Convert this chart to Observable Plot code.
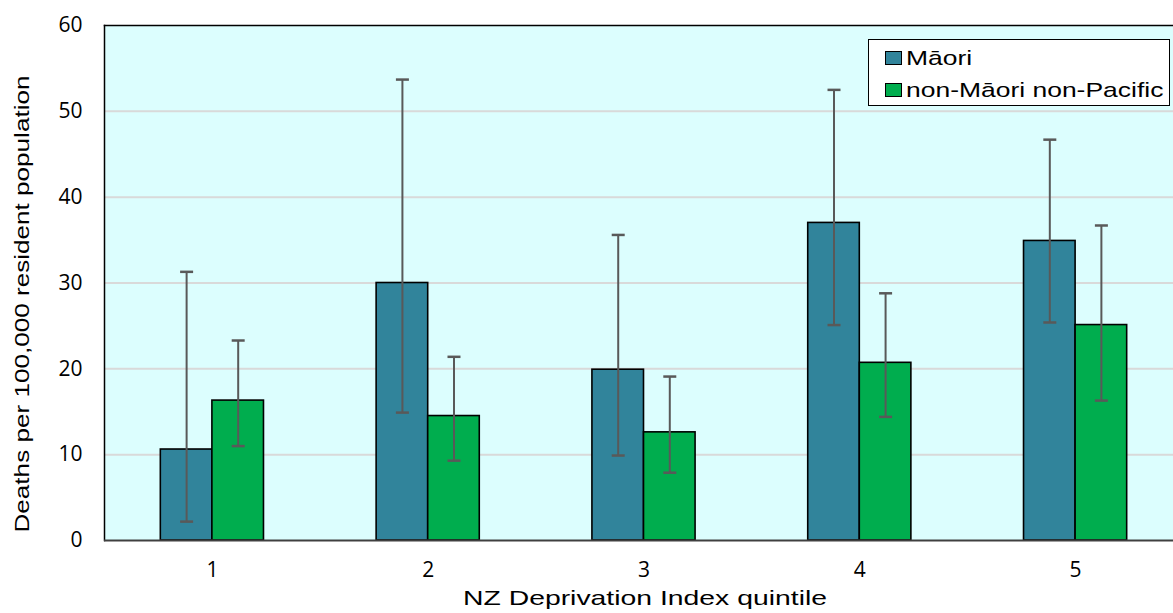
<!DOCTYPE html>
<html>
<head>
<meta charset="utf-8">
<script src="https://cdn.jsdelivr.net/npm/d3@7"></script>
<script src="https://cdn.jsdelivr.net/npm/@observablehq/plot@0.6"></script>
<style>
  html, body { margin: 0; padding: 0; background: #fff; overflow: hidden; }
  #wrap { position: relative; width: 1173px; height: 613px; overflow: hidden; }
  #wrap svg { max-width: none !important; }
  #legend {
    position: absolute; left: 868px; top: 39px; width: 302px; height: 67px; box-sizing: border-box;
    background: #fff; border: 1.5px solid #000;
    font-family: "Liberation Sans", Arial, sans-serif; font-size: 21px; color: #000;
  }
  #legend .row { position: relative; height: 32px; }
  #legend .sw { position: absolute; left: 16px; top: 11px; width: 17px; height: 14px; border: 1.5px solid #000; box-sizing: border-box; }
  #legend .lab { position: absolute; left: 37px; top: 6px; white-space: nowrap; transform: scaleX(1.26); transform-origin: 0 0; line-height: 24px; }
</style>
</head>
<body>
<div id="wrap"></div>
<script>
// ---- data ----
const quintiles = [1, 2, 3, 4, 5];
const seriesNames = ["Māori", "non-Māori non-Pacific"];
const maoriRate  = [10.6, 30.0, 19.9, 37.0, 34.9];
const maoriLow   = [2.2, 14.9, 9.9, 25.1, 25.4];
const maoriHigh  = [31.3, 53.7, 35.6, 52.5, 46.7];
const nmnpRate   = [16.3, 14.5, 12.6, 20.7, 25.1];
const nmnpLow    = [11.0, 9.3, 7.9, 14.4, 16.3];
const nmnpHigh   = [23.3, 21.4, 19.1, 28.8, 36.7];
const yTicks = [0, 10, 20, 30, 40, 50, 60];
const yTitle = "Deaths per 100,000 resident population";
const xTitle = "NZ Deprivation Index quintile";

const colors = ["#31849b", "#00ad4e"];
const barW = 0.239; // bar width in quintile units

const rows = [];
quintiles.forEach((q, i) => {
  rows.push({q, series: seriesNames[0], side: -1, v: maoriRate[i], lo: maoriLow[i], hi: maoriHigh[i]});
  rows.push({q, series: seriesNames[1], side: 1, v: nmnpRate[i], lo: nmnpLow[i], hi: nmnpHigh[i]});
});
rows.forEach(d => {
  d.x1 = d.side < 0 ? d.q - barW : d.q;
  d.x2 = d.side < 0 ? d.q : d.q + barW;
  d.xc = d.q + d.side * barW / 2;
});

const capSymbol = { draw(ctx) { ctx.moveTo(-6.5, 0); ctx.lineTo(6.5, 0); } };

const chart = Plot.plot({
  width: 1183,
  height: 613,
  marginLeft: 104,
  marginRight: 0,
  marginTop: 25,
  marginBottom: 73,
  style: { fontFamily: "'Open Sans', sans-serif", fontSize: "21px", color: "#000", background: "transparent", overflow: "visible", maxWidth: "none" },
  x: { domain: [0.5, 5.5], label: null },
  y: { domain: [0, 60], label: null },
  color: { domain: seriesNames, range: colors },
  marks: [
    Plot.frame({ fill: "#dcfefe", stroke: null }),
    Plot.ruleY(yTicks.filter(t => t > 0 && t < 60), { stroke: "#d9d9d9", strokeWidth: 2 }),
    Plot.rectY(rows, { x1: "x1", x2: "x2", y1: 0, y2: "v", fill: "series", stroke: "#000", strokeWidth: 1.6 }),
    Plot.ruleX(rows, { x: "xc", y1: "lo", y2: "hi", stroke: "#595959", strokeWidth: 2 }),
    Plot.dot(rows, { x: "xc", y: "lo", symbol: capSymbol, stroke: "#595959", strokeWidth: 2.5, r: 5 }),
    Plot.dot(rows, { x: "xc", y: "hi", symbol: capSymbol, stroke: "#595959", strokeWidth: 2.5, r: 5 }),
    Plot.frame({ anchor: "top", stroke: "#000", strokeWidth: 1.5 }),
    Plot.frame({ anchor: "left", stroke: "#000", strokeWidth: 1.5 }),
    Plot.ruleY([0], { stroke: "#404040", strokeWidth: 2 }),
    Plot.axisX({ tickSize: 0, tickPadding: 22, ticks: quintiles, tickFormat: d => String(d), label: null, fontSize: 21 }),
    Plot.axisY({ tickSize: 0, tickPadding: 22, ticks: yTicks, label: null, fontSize: 21 }),
    Plot.text([yTitle], {
      frameAnchor: "left", rotate: -90, dx: -82, dy: 21, textAnchor: "middle",
      fontFamily: "'Liberation Sans', Arial, sans-serif", fontSize: 21, fill: "#000"
    }),
    Plot.text([xTitle], {
      frameAnchor: "bottom", dy: 58, dx: 1, textAnchor: "middle", lineAnchor: "middle",
      fontFamily: "'Liberation Sans', Arial, sans-serif", fontSize: 21, fill: "#000"
    })
  ]
});

// stretch axis titles to the reference's wide lettering
d3.select(chart).selectAll("text").each(function () {
  const t = this.textContent;
  if (t === yTitle) d3.select(this).attr("textLength", 457).attr("lengthAdjust", "spacingAndGlyphs");
  if (t === xTitle) d3.select(this).attr("textLength", 364).attr("lengthAdjust", "spacingAndGlyphs");
});

const wrap = document.getElementById("wrap");
wrap.appendChild(chart);

const legend = document.createElement("div");
legend.id = "legend";
seriesNames.forEach((name, i) => {
  const row = document.createElement("div");
  row.className = "row";
  const sw = document.createElement("div");
  sw.className = "sw";
  sw.style.background = colors[i];
  const label = document.createElement("span");
  label.className = "lab";
  label.textContent = name;
  row.appendChild(sw);
  row.appendChild(label);
  legend.appendChild(row);
});
wrap.appendChild(legend);
</script>
</body>
</html>
